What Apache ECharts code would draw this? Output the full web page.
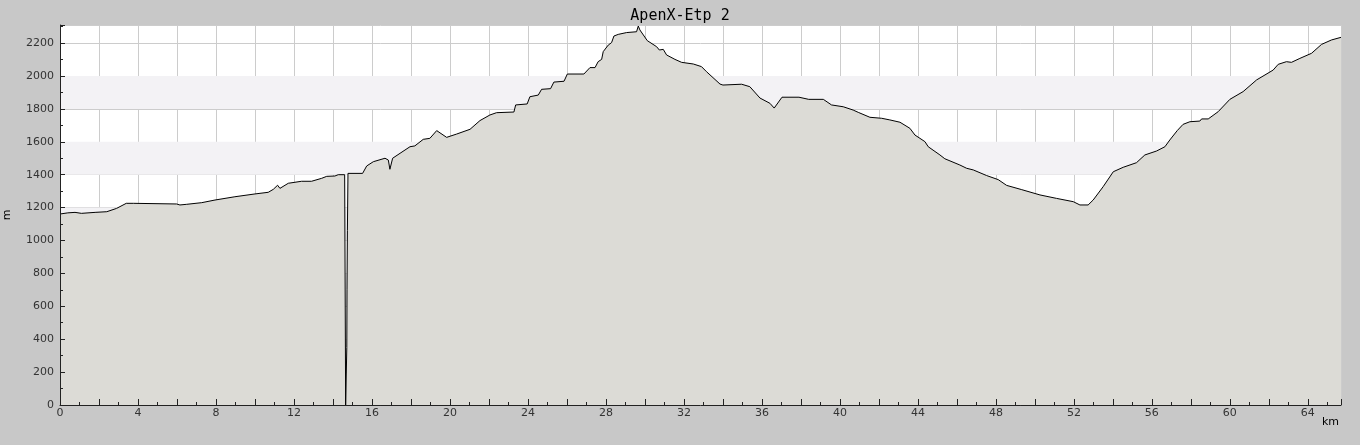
<!DOCTYPE html>
<html>
<head>
<meta charset="utf-8">
<script src="https://cdn.jsdelivr.net/npm/echarts@6/dist/echarts.min.js"></script>
<style>
html,body{margin:0;padding:0;background:#c8c8c8;}
#chart{width:1360px;height:445px;}
</style>
</head>
<body>
<div id="chart"></div>
<script>
const chartTitle = 'ApenX-Etp 2';
const distKm = [0,0.4,0.77,1.1,1.8,2.4,2.9,3.4,3.76,3.85,5.98,6.15,6.5,7.27,7.95,8.97,10.0,10.68,10.94,11.16,11.28,11.71,12.39,12.9,13.42,13.68,14.1,14.27,14.6,14.65,14.71,14.72,14.74,14.77,15.52,15.73,16.07,16.67,16.84,16.92,17.06,17.44,17.95,18.2,18.63,18.97,19.32,19.83,20.34,21.03,21.54,22.05,22.39,23.28,23.37,23.96,24.1,24.53,24.7,25.16,25.33,25.85,26.02,26.87,27.18,27.44,27.6,27.78,27.86,28.12,28.29,28.41,28.63,29.06,29.57,29.66,29.74,30.12,30.6,30.74,30.94,31.11,31.54,31.88,32.48,32.9,33.16,33.85,34.0,34.96,35.38,35.9,36.41,36.63,37.03,37.9,38.4,39.15,39.57,40.17,40.68,40.94,41.54,42.14,42.56,43.08,43.59,43.85,44.36,44.53,45.13,45.38,46.15,46.5,46.84,47.52,48.12,48.55,49.3,50.26,51.11,51.97,52.31,52.73,52.99,53.5,54.02,54.53,55.21,55.64,56.24,56.67,56.92,57.3,57.6,57.95,58.46,58.55,58.89,59.4,60.0,60.68,61.37,62.22,62.48,62.9,63.16,63.59,64.19,64.7,65.21,65.7];
const elevM = [1161,1168,1171,1165,1171,1175,1195,1226,1226,1222,1222,1216,1220,1230,1246,1266,1283,1293,1311,1336,1317,1348,1360,1360,1378,1390,1392,1400,1400,0,350,700,1060,1408,1408,1453,1479,1500,1489,1433,1500,1530,1570,1575,1615,1621,1668,1627,1647,1676,1729,1763,1777,1781,1824,1830,1874,1884,1919,1923,1963,1968,2012,2012,2051,2051,2087,2101,2148,2188,2203,2243,2253,2264,2269,2304,2280,2215,2178,2158,2162,2128,2101,2083,2073,2057,2026,1951,1945,1950,1935,1866,1834,1805,1871,1871,1858,1858,1824,1813,1793,1779,1749,1743,1733,1719,1682,1641,1601,1570,1520,1497,1459,1439,1429,1395,1370,1335,1310,1277,1256,1236,1216,1216,1246,1327,1418,1445,1473,1520,1544,1570,1611,1668,1706,1722,1726,1739,1739,1783,1858,1905,1976,2036,2071,2087,2083,2107,2138,2192,2219,2235];
const bandRanges = [[200,400],[600,800],[1000,1200],[1400,1600],[1800,2000]];
const xMax = 65.7;
const yMax = 2310;

const profile = distKm.map((d, i) => [d, elevM[i]]);
const tickColor = '#222';
const gridLineColor = '#cccccc';

const xBase = {type: 'value', min: 0, max: xMax, interval: 2, position: 'bottom'};
const yBase = {type: 'value', min: 0, max: yMax, interval: 200, position: 'left'};

const chart = echarts.init(document.getElementById('chart'));
chart.setOption({
  backgroundColor: '#c8c8c8',
  animation: false,
  title: {
    text: chartTitle, left: 'center', top: 4,
    textStyle: {fontFamily: 'DejaVu Sans Mono', fontSize: 15, fontWeight: 'normal', color: '#000'}
  },
  grid: {left: 60, right: 19, top: 25, bottom: 40, show: true, backgroundColor: '#ffffff', borderWidth: 0,
         containLabel: false, outerBoundsMode: 'none'},
  xAxis: [
    Object.assign({}, xBase, {
      z: 0,
      axisLine: {show: false}, axisTick: {show: false}, axisLabel: {show: false},
      splitLine: {show: true, lineStyle: {color: gridLineColor, width: 1}}
    }),
    Object.assign({}, xBase, {
      z: 5,
      axisLine: {show: true, lineStyle: {color: tickColor, width: 1}},
      axisTick: {inside: true, length: 6, lineStyle: {color: tickColor}},
      minorTick: {show: true, splitNumber: 2, length: 3, lineStyle: {color: tickColor}},
      splitLine: {show: false},
      axisLabel: {
        margin: 3, color: '#333', fontFamily: 'DejaVu Sans', fontSize: 11,
        showMaxLabel: false,
        formatter: v => (v % 4 === 0 ? String(v) : '')
      }
    })
  ],
  yAxis: [
    Object.assign({}, yBase, {
      z: 0,
      axisLine: {show: false}, axisTick: {show: false}, axisLabel: {show: false},
      splitLine: {show: true, lineStyle: {color: gridLineColor, width: 1}}
    }),
    Object.assign({}, yBase, {
      z: 5,
      name: 'm', nameLocation: 'middle', nameGap: 47, nameRotate: 90,
      nameTextStyle: {color: '#000', fontFamily: 'DejaVu Sans', fontSize: 11},
      axisLine: {show: true, lineStyle: {color: tickColor, width: 1}},
      axisTick: {show: true, inside: true, length: 5, lineStyle: {color: tickColor}},
      minorTick: {show: true, splitNumber: 2, length: 3, lineStyle: {color: tickColor}},
      splitLine: {show: false},
      axisLabel: {margin: 6, color: '#333', fontFamily: 'DejaVu Sans', fontSize: 11, showMaxLabel: false,
                  formatter: v => String(v)}
    })
  ],
  graphic: [{
    type: 'text', left: 1322, top: 417,
    style: {text: 'km', fill: '#000', font: '11px "DejaVu Sans"'}
  }],
  series: [
    {
      type: 'line', data: [], z: 1, silent: true, xAxisIndex: 0, yAxisIndex: 0,
      markArea: {
        silent: true,
        itemStyle: {color: '#f3f2f5'},
        data: bandRanges.map(r => [{yAxis: r[0]}, {yAxis: r[1]}])
      }
    },
    {
      type: 'line', data: profile, z: 2, showSymbol: false, smooth: false,
      xAxisIndex: 0, yAxisIndex: 0,
      lineStyle: {color: '#000', width: 1},
      areaStyle: {color: '#dcdbd6', opacity: 1}
    }
  ]
});
</script>
</body>
</html>
